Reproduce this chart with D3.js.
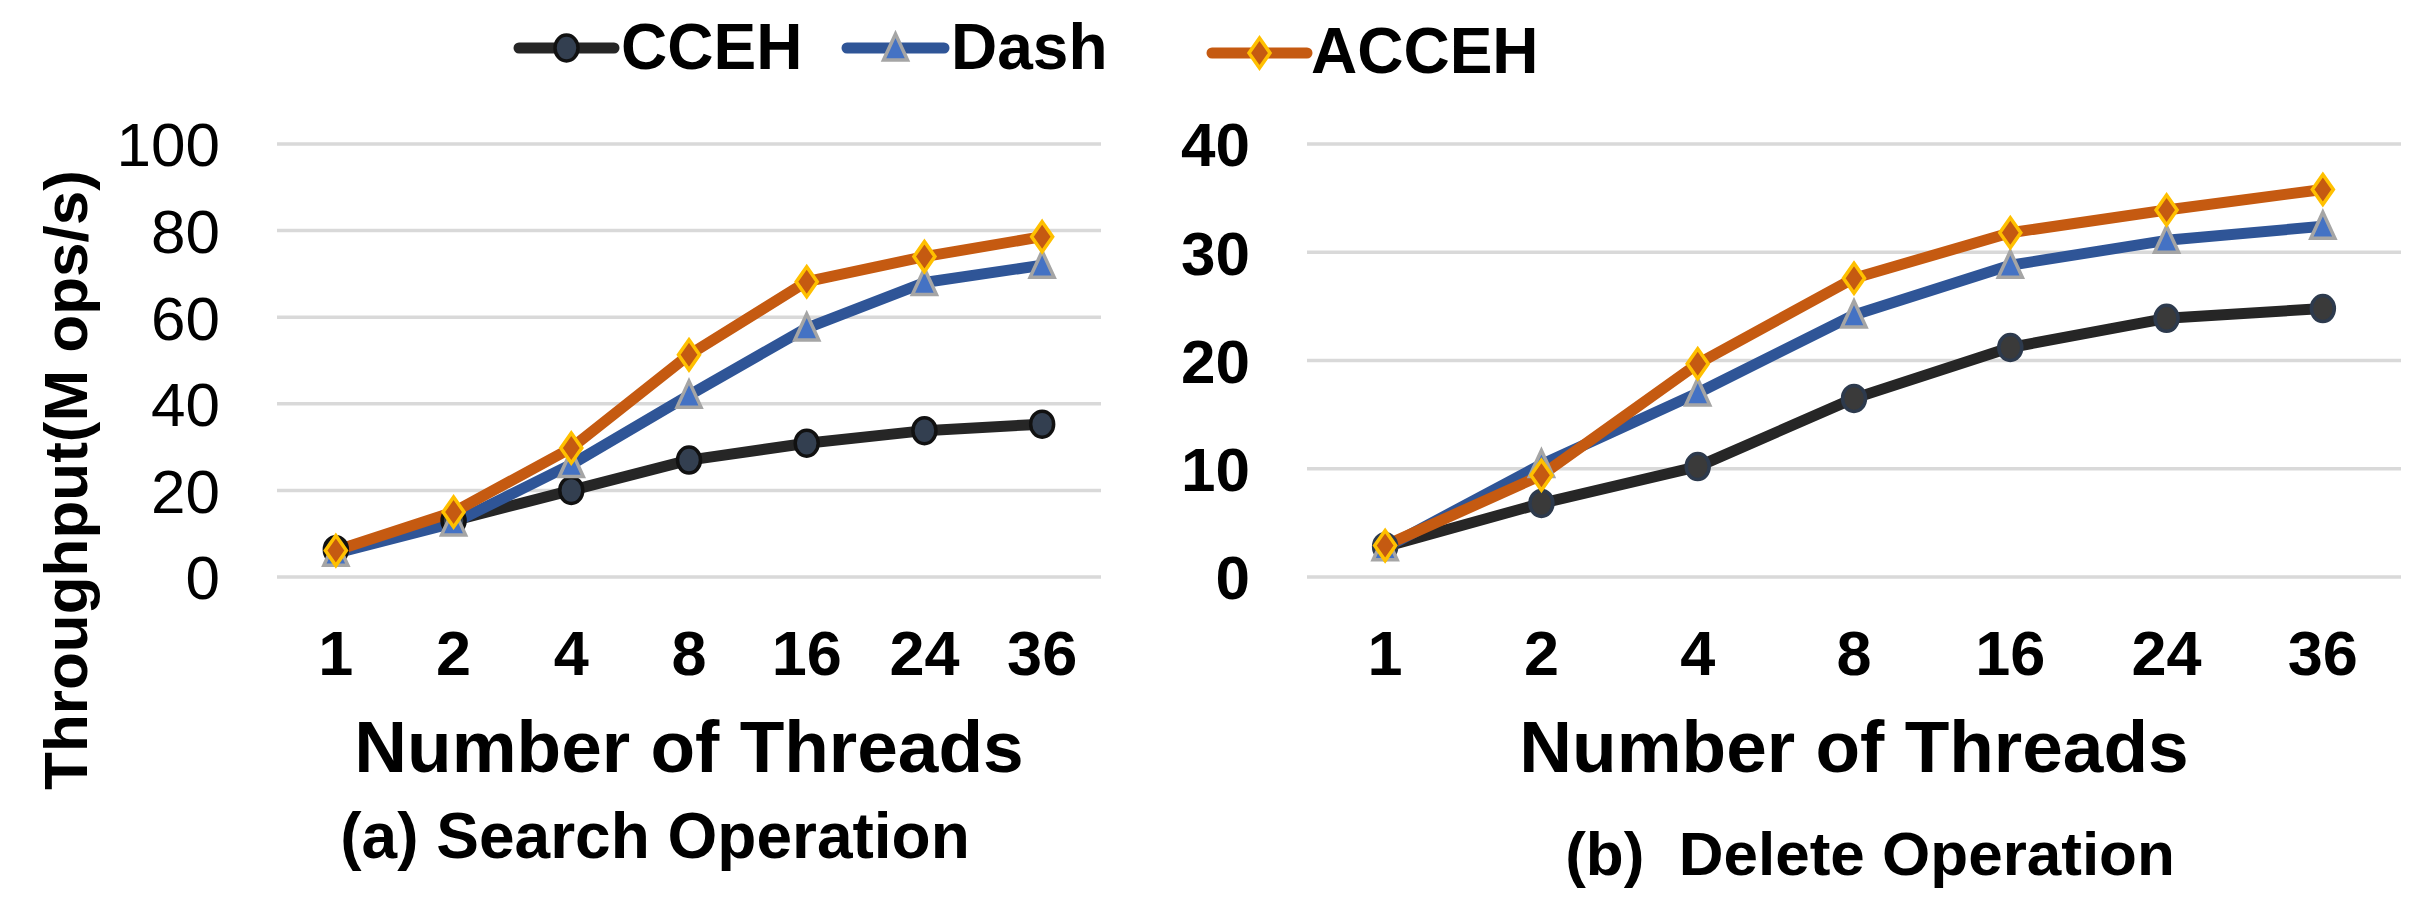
<!DOCTYPE html>
<html><head><meta charset="utf-8">
<script src="https://cdn.jsdelivr.net/npm/d3@7"></script>
<style>
html,body{margin:0;padding:0;background:#fff;}
svg{display:block;font-family:"Liberation Sans",Arial,sans-serif;}
</style></head>
<body>
<svg id="c" width="2436" height="911"></svg>
<script>
const threads = ["1","2","4","8","16","24","36"];
const seriesNames = ["CCEH","Dash","ACCEH"];
// (a) Search Operation
const searchCCEH  = [6.3, 13.0, 20.0, 27.0, 30.9, 33.8, 35.3];
const searchDash  = [5.5, 12.5, 26.0, 42.0, 57.5, 68.0, 72.0];
const searchACCEH = [6.1, 15.0, 29.8, 51.3, 68.2, 74.0, 78.6];
// (b) Delete Operation
const deleteCCEH  = [2.8, 6.8, 10.2, 16.5, 21.2, 23.9, 24.8];
const deleteDash  = [2.7, 10.4, 17.0, 24.2, 28.8, 31.1, 32.4];
const deleteACCEH = [2.9, 9.4, 19.7, 27.6, 31.8, 33.9, 35.8];
const searchTicks = [0,20,40,60,80,100];
const deleteTicks = [0,10,20,30,40];

const svg = d3.select("#c");
const FONT = '"Liberation Sans", Arial, sans-serif';

const styles = {
  CCEH:  {line:"#262626", fill:"#333f50", stroke:"#111111", shape:"circle"},
  Dash:  {line:"#2f5597", fill:"#4472c4", stroke:"#a5a5a5", shape:"triangle"},
  ACCEH: {line:"#c55a11", fill:"#c55a11", stroke:"#ffc000", shape:"diamond"}
};
function markerPath(shape){
  if(shape==="circle") return "M-11.5,0a11.5,13 0 1,0 23,0a11.5,13 0 1,0 -23,0Z";
  if(shape==="triangle") return "M0,-14L12,12L-12,12Z";
  return "M0,-15L10.5,0L0,15L-10.5,0Z";
}

function panel(opt){
  const x = d3.scalePoint().domain(threads).range([opt.x0, opt.x1]).padding(0.5);
  const y = d3.scaleLinear().domain([0, opt.ymax]).range([577, 144]);
  const g = svg.append("g");
  // gridlines
  g.selectAll("line.grid").data(opt.ticks).enter().append("line")
    .attr("x1", opt.x0).attr("x2", opt.x1)
    .attr("y1", d=>y(d)).attr("y2", d=>y(d))
    .attr("stroke","#d9d9d9").attr("stroke-width",3.5);
  // y tick labels
  g.selectAll("text.yt").data(opt.ticks).enter().append("text")
    .attr("x", opt.ylabX).attr("y", d=>y(d)).attr("dy","0.36em")
    .attr("text-anchor","end").attr("font-size",62)
    .attr("font-weight", opt.yBold ? "bold" : "normal")
    .attr("font-family",FONT).text(d=>d);
  // x tick labels
  g.selectAll("text.xt").data(threads).enter().append("text")
    .attr("x", d=>x(d)).attr("y", 675)
    .attr("text-anchor","middle").attr("font-size",63).attr("font-weight","bold")
    .attr("font-family",FONT).text(d=>d);
  // x title
  g.append("text").attr("x",(opt.x0+opt.x1)/2 + opt.titleShift).attr("y",772)
    .attr("text-anchor","middle").attr("font-size",73).attr("font-weight","bold")
    .attr("font-family",FONT).text("Number of Threads");
  // caption
  g.append("text").attr("x",opt.capX).attr("y",opt.capY)
    .attr("text-anchor","middle").attr("font-size",opt.capSize).attr("font-weight","bold")
    .attr("font-family",FONT).attr("xml:space","preserve").style("white-space","pre").text(opt.caption);
  const line = d3.line().x((d,i)=>x(threads[i])).y(d=>y(d));
  opt.series.forEach((vals, si)=>{
    const st = styles[seriesNames[si]];
    g.append("path").attr("d", line(vals)).attr("fill","none")
      .attr("stroke", st.line).attr("stroke-width",11).attr("stroke-linejoin","round");
  });
  opt.series.forEach((vals, si)=>{
    const st = styles[seriesNames[si]];
    g.selectAll(null).data(vals).enter().append("path")
      .attr("d", markerPath(st.shape))
      .attr("transform",(d,i)=>`translate(${x(threads[i])},${y(d)})`)
      .attr("fill", si===0 && opt.darkCircle ? "#3a3a3a" : st.fill)
      .attr("stroke", si===0 && opt.darkCircle ? "#2d3a4d" : st.stroke)
      .attr("stroke-width",3.5);
  });
}

panel({x0:277, x1:1101, ymax:100, ticks:searchTicks, ylabX:220, yBold:false,
  titleShift:0, caption:"(a) Search Operation", capX:655, capY:858, capSize:64,
  series:[searchCCEH, searchDash, searchACCEH], darkCircle:false});
panel({x0:1307, x1:2401, ymax:40, ticks:deleteTicks, ylabX:1250, yBold:true,
  titleShift:0, caption:"(b)  Delete Operation", capX:1870, capY:875, capSize:62,
  series:[deleteCCEH, deleteDash, deleteACCEH], darkCircle:true});

// y axis title
svg.append("text").attr("transform","translate(87,480) rotate(-90)")
  .attr("text-anchor","middle").attr("font-size",62).attr("font-weight","bold")
  .attr("font-family",FONT).text("Throughput(M ops/s)");

// legend
const legend = [
  {name:"CCEH", lx0:519, lx1:614, ly:48, tx:621, ty:69},
  {name:"Dash", lx0:847, lx1:944, ly:48, tx:951, ty:69},
  {name:"ACCEH", lx0:1212, lx1:1307, ly:53, tx:1311, ty:73}
];
legend.forEach(l=>{
  const st = styles[l.name];
  svg.append("line").attr("x1",l.lx0).attr("x2",l.lx1).attr("y1",l.ly).attr("y2",l.ly)
    .attr("stroke",st.line).attr("stroke-width",11).attr("stroke-linecap","round");
  svg.append("path").attr("d",markerPath(st.shape))
    .attr("transform",`translate(${(l.lx0+l.lx1)/2},${l.ly})`)
    .attr("fill",st.fill).attr("stroke",st.stroke).attr("stroke-width",3.5);
  svg.append("text").attr("x",l.tx).attr("y",l.ty).attr("font-size",64)
    .attr("font-weight","bold").attr("font-family",FONT).text(l.name);
});
</script>
</body></html>
